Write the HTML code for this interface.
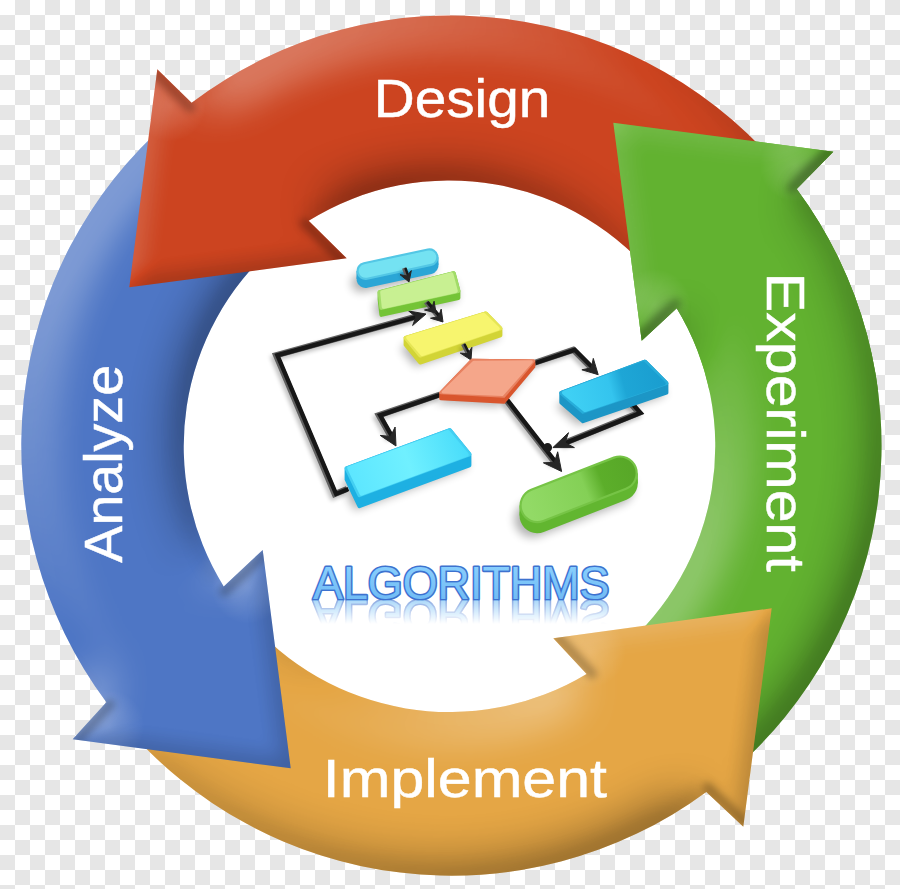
<!DOCTYPE html>
<html><head><meta charset="utf-8"><title>Algorithms</title>
<style>
html,body{margin:0;padding:0;}
body{width:900px;height:889px;overflow:hidden;background:#fff;font-family:"Liberation Sans",sans-serif;}
svg{display:block;}
text{font-family:"Liberation Sans",sans-serif;}
</style></head><body>
<svg width="900" height="889" viewBox="0 0 900 889">
<defs>
<pattern id="chk" width="30" height="30" patternUnits="userSpaceOnUse">
<rect width="30" height="30" fill="#ffffff"/>
<rect x="15" y="0" width="15" height="15" fill="#e6e6e6"/>
<rect x="0" y="15" width="15" height="15" fill="#e6e6e6"/>
</pattern>
<filter id="bevel" x="-10%" y="-10%" width="120%" height="120%" color-interpolation-filters="sRGB">
<feGaussianBlur in="SourceAlpha" stdDeviation="24" result="b"/>
<feDiffuseLighting in="b" surfaceScale="22" diffuseConstant="1" lighting-color="#ffffff" result="l0">
<feDistantLight azimuth="225" elevation="45"/>
</feDiffuseLighting>
<feGaussianBlur in="l0" stdDeviation="3" result="l"/>
<feColorMatrix in="l" type="matrix" values="0 0 0 0 1  0 0 0 0 1  0 0 0 0 1  1.0 0 0 0 -0.7071" result="hi"/>
<feColorMatrix in="l" type="matrix" values="0 0 0 0 0  0 0 0 0 0  0 0 0 0 0  -0.5 0 0 0 0.3535" result="sh"/>
<feComponentTransfer in="hi" result="hi2"><feFuncA type="table" tableValues="0 0.25 0.25 0.25 0.25"/></feComponentTransfer>
<feComponentTransfer in="sh" result="sh2"><feFuncA type="table" tableValues="0 0.21 0.21 0.21 0.21"/></feComponentTransfer>
<feMerge><feMergeNode in="hi2"/><feMergeNode in="sh2"/></feMerge>
</filter>
<path id="p_red" d="M191.6 102.8 L157.3 69.3 L129.3 287.3 L346.7 258.3 L308.7 220.8 A265.8 265.8 0 0 1 659.0 282.6 L790.3 180.7 A430.1 430.1 0 0 0 191.6 102.8 Z"/>
<clipPath id="c_red"><use href="#p_red"/></clipPath>
<path id="p_green" d="M796.7 189.0 L833.3 151.7 L613.3 122.7 L641.7 340.7 L676.7 308.3 A265.8 265.8 0 0 1 620.4 649.8 L727.9 775.0 A430.1 430.1 0 0 0 796.7 189.0 Z"/>
<clipPath id="c_green"><use href="#p_green"/></clipPath>
<path id="p_orange" d="M706.3 792.0 L743.3 826.7 L771.7 608.3 L553.3 638.3 L586.6 673.9 A265.8 265.8 0 0 1 245.9 617.1 L121.9 722.0 A430.1 430.1 0 0 0 706.3 792.0 Z"/>
<clipPath id="c_orange"><use href="#p_orange"/></clipPath>
<path id="p_blue" d="M106.4 702.3 L72.7 739.3 L290.7 768.3 L262.7 550.0 L223.7 586.4 A265.8 265.8 0 0 1 275.1 245.6 L169.2 120.9 A430.1 430.1 0 0 0 106.4 702.3 Z"/>
<clipPath id="c_blue"><use href="#p_blue"/></clipPath>
<filter id="sblur" filterUnits="userSpaceOnUse" x="200" y="200" width="520" height="420"><feGaussianBlur stdDeviation="5"/></filter>
<filter id="sblur2" filterUnits="userSpaceOnUse" x="200" y="200" width="520" height="420"><feGaussianBlur stdDeviation="2"/></filter>
<linearGradient id="gblue" gradientUnits="userSpaceOnUse" x1="570" y1="400" x2="660" y2="375"><stop offset="0" stop-color="#3fd0f4"/><stop offset="0.45" stop-color="#34c4ee"/><stop offset="0.6" stop-color="#1ea6d6"/><stop offset="1" stop-color="#1a9ed0"/></linearGradient>
<linearGradient id="gcyan" gradientUnits="userSpaceOnUse" x1="350" y1="480" x2="465" y2="440"><stop offset="0" stop-color="#5ce6ff"/><stop offset="0.5" stop-color="#70f0ff"/><stop offset="1" stop-color="#48dcfa"/></linearGradient>
<linearGradient id="ggreen" gradientUnits="userSpaceOnUse" x1="530" y1="510" x2="630" y2="470"><stop offset="0" stop-color="#92da66"/><stop offset="0.55" stop-color="#84d056"/><stop offset="0.72" stop-color="#5cae2a"/><stop offset="1" stop-color="#58a828"/></linearGradient>
<linearGradient id="algfill" x1="0" y1="0" x2="0" y2="1"><stop offset="0" stop-color="#8fd4ff"/><stop offset="1" stop-color="#6ab6f2"/></linearGradient>
<linearGradient id="rgrad" gradientUnits="userSpaceOnUse" x1="0" y1="599" x2="0" y2="624"><stop offset="0" stop-color="#fff" stop-opacity="0.62"/><stop offset="1" stop-color="#fff" stop-opacity="0"/></linearGradient>
<mask id="rmask" maskUnits="userSpaceOnUse" x="300" y="595" width="330" height="40"><rect x="300" y="599" width="330" height="30" fill="url(#rgrad)"/></mask>
<filter id="bevel2" x="-10%" y="-10%" width="120%" height="120%" color-interpolation-filters="sRGB">
<feGaussianBlur in="SourceAlpha" stdDeviation="10" result="b"/>
<feDiffuseLighting in="b" surfaceScale="10" diffuseConstant="1" lighting-color="#ffffff" result="l0">
<feDistantLight azimuth="225" elevation="45"/>
</feDiffuseLighting>
<feGaussianBlur in="l0" stdDeviation="1.5" result="l"/>
<feColorMatrix in="l" type="matrix" values="0 0 0 0 1  0 0 0 0 1  0 0 0 0 1  0.4 0 0 0 -0.2828" result="hi"/>
<feColorMatrix in="l" type="matrix" values="0 0 0 0 0  0 0 0 0 0  0 0 0 0 0  -0.4 0 0 0 0.2828" result="sh"/>
<feComponentTransfer in="hi" result="hi2"><feFuncA type="table" tableValues="0 0.08 0.08 0.08 0.08"/></feComponentTransfer>
<feComponentTransfer in="sh" result="sh2"><feFuncA type="table" tableValues="0 0.12 0.12 0.12 0.12"/></feComponentTransfer>
<feMerge><feMergeNode in="hi2"/><feMergeNode in="sh2"/></feMerge>
</filter>
<radialGradient id="blob"><stop offset="0" stop-color="#fff" stop-opacity="0.17"/><stop offset="0.5" stop-color="#fff" stop-opacity="0.1"/><stop offset="1" stop-color="#fff" stop-opacity="0"/></radialGradient>
<filter id="crease" filterUnits="userSpaceOnUse" x="0" y="0" width="900" height="889"><feGaussianBlur stdDeviation="3.5"/></filter>
<clipPath id="ghead"><rect x="560" y="60" width="340" height="330"/></clipPath>
</defs>
<rect width="900" height="889" fill="url(#chk)"/>
<circle cx="449.5" cy="446.2" r="267.3" fill="#ffffff"/>
<use href="#p_green" fill="#62b230"/>
<g clip-path="url(#c_green)"><path d="M809.5 207.3 L891.3 124.0 L572.7 82.0 L613.7 396.6 L687.6 328.1 A265.8 265.8 0 0 1 620.4 649.8 L727.9 775.0 A430.1 430.1 0 0 0 809.5 207.3 Z" filter="url(#bevel)"/><use href="#p_green" filter="url(#bevel2)"/><circle cx="795.5" cy="165.8" r="36" fill="url(#blob)"/><line x1="828.4" y1="150.6" x2="791.8" y2="187.9" stroke="#000" stroke-opacity="0.24" stroke-width="10" stroke-linecap="round" filter="url(#crease)"/><circle cx="654.8" cy="305.0" r="36" fill="url(#blob)"/><line x1="640.6" y1="335.8" x2="675.6" y2="303.4" stroke="#000" stroke-opacity="0.24" stroke-width="10" stroke-linecap="round" filter="url(#crease)"/></g>
<use href="#p_orange" fill="#e5a645"/>
<g clip-path="url(#c_orange)"><path d="M687.7 804.9 L771.3 883.0 L812.3 567.4 L497.7 610.6 L566.5 684.9 A265.8 265.8 0 0 1 245.9 617.1 L121.9 722.0 A430.1 430.1 0 0 0 687.7 804.9 Z" filter="url(#bevel)"/><use href="#p_orange" filter="url(#bevel2)"/><line x1="744.4" y1="821.8" x2="707.6" y2="787.4" stroke="#000" stroke-opacity="0.24" stroke-width="10" stroke-linecap="round" filter="url(#crease)"/><circle cx="589.7" cy="652.0" r="36" fill="url(#blob)"/><line x1="558.2" y1="637.1" x2="592.2" y2="673.8" stroke="#000" stroke-opacity="0.24" stroke-width="10" stroke-linecap="round" filter="url(#crease)"/></g>
<use href="#p_blue" fill="#4e76c5"/>
<g clip-path="url(#c_blue)"><path d="M93.2 683.5 L18.0 767.3 L331.2 809.0 L290.8 493.8 L212.6 566.6 A265.8 265.8 0 0 1 275.1 245.6 L169.2 120.9 A430.1 430.1 0 0 0 93.2 683.5 Z" filter="url(#bevel)"/><use href="#p_blue" filter="url(#bevel2)"/><circle cx="108.3" cy="725.8" r="36" fill="url(#blob)"/><line x1="77.6" y1="740.4" x2="109.9" y2="704.4" stroke="#000" stroke-opacity="0.24" stroke-width="10" stroke-linecap="round" filter="url(#crease)"/><circle cx="247.6" cy="587.8" r="36" fill="url(#blob)"/><line x1="263.9" y1="554.9" x2="224.5" y2="591.6" stroke="#000" stroke-opacity="0.24" stroke-width="10" stroke-linecap="round" filter="url(#crease)"/></g>
<use href="#p_red" fill="#cc4420"/>
<g clip-path="url(#c_red)"><path d="M209.7 89.7 L129.5 11.4 L88.8 328.0 L406.1 285.7 L328.4 209.6 A265.8 265.8 0 0 1 659.0 282.6 L790.3 180.7 A430.1 430.1 0 0 0 209.7 89.7 Z" filter="url(#bevel)"/><use href="#p_red" filter="url(#bevel2)"/><circle cx="170.0" cy="105.5" r="36" fill="url(#blob)"/><line x1="156.2" y1="74.2" x2="190.4" y2="107.6" stroke="#000" stroke-opacity="0.24" stroke-width="10" stroke-linecap="round" filter="url(#crease)"/><line x1="341.8" y1="259.5" x2="304.4" y2="222.9" stroke="#000" stroke-opacity="0.24" stroke-width="10" stroke-linecap="round" filter="url(#crease)"/></g>
<g clip-path="url(#ghead)"><use href="#p_green" fill="#62b230"/>
<g clip-path="url(#c_green)"><path d="M809.5 207.3 L891.3 124.0 L572.7 82.0 L613.7 396.6 L687.6 328.1 A265.8 265.8 0 0 1 620.4 649.8 L727.9 775.0 A430.1 430.1 0 0 0 809.5 207.3 Z" filter="url(#bevel)"/><use href="#p_green" filter="url(#bevel2)"/><circle cx="795.5" cy="165.8" r="36" fill="url(#blob)"/><line x1="828.4" y1="150.6" x2="791.8" y2="187.9" stroke="#000" stroke-opacity="0.24" stroke-width="10" stroke-linecap="round" filter="url(#crease)"/><circle cx="654.8" cy="305.0" r="36" fill="url(#blob)"/><line x1="640.6" y1="335.8" x2="675.6" y2="303.4" stroke="#000" stroke-opacity="0.24" stroke-width="10" stroke-linecap="round" filter="url(#crease)"/></g>
</g>
<g fill="#ffffff" font-size="54" stroke="#ffffff" stroke-width="0.5">
<text x="373.7" y="117" textLength="176.6" lengthAdjust="spacingAndGlyphs">Design</text>
<text x="322.8" y="796.5" textLength="284.2" lengthAdjust="spacingAndGlyphs">Implement</text>
<text transform="translate(767 272.7) rotate(90)" textLength="299.2" lengthAdjust="spacingAndGlyphs">Experiment</text>
<text transform="translate(121.5 562.7) rotate(-90)" textLength="197.8" lengthAdjust="spacingAndGlyphs">Analyze</text>
</g>
<g id="flow">
<path d="M347.0 489.0 L334.7 494.0 L276.0 355.3 L416.7 316.5" transform="translate(-2 3)" fill="none" stroke="#000" stroke-width="6" opacity="0.25" filter="url(#sblur2)"/>
<path d="M347.0 489.0 L334.7 494.0 L276.0 355.3 L416.7 316.5" fill="none" stroke="#606060" stroke-width="6" stroke-linejoin="miter"/>
<path d="M347.0 489.0 L334.7 494.0 L276.0 355.3 L416.7 316.5" transform="translate(1.4 0)" fill="none" stroke="#171717" stroke-width="4.4" stroke-linejoin="miter"/>
<polygon points="426.0,314.0 412.6,325.5 416.0,316.8 408.6,311.0" fill="#262626" stroke="#262626" stroke-width="1" stroke-linejoin="round"/>
<path d="M440.0 394.5 L378.7 415.3 L391.0 437.1" transform="translate(-2 3)" fill="none" stroke="#000" stroke-width="6" opacity="0.25" filter="url(#sblur2)"/>
<path d="M440.0 394.5 L378.7 415.3 L391.0 437.1" fill="none" stroke="#606060" stroke-width="6" stroke-linejoin="miter"/>
<path d="M440.0 394.5 L378.7 415.3 L391.0 437.1" transform="translate(1.4 0)" fill="none" stroke="#171717" stroke-width="4.4" stroke-linejoin="miter"/>
<polygon points="396.0,446.0 380.2,435.4 390.6,436.4 395.1,427.0" fill="#262626" stroke="#262626" stroke-width="1" stroke-linejoin="round"/>
<path d="M534.0 363.0 L573.3 349.8 L591.8 368.3" transform="translate(-2 3)" fill="none" stroke="#000" stroke-width="6" opacity="0.25" filter="url(#sblur2)"/>
<path d="M534.0 363.0 L573.3 349.8 L591.8 368.3" fill="none" stroke="#606060" stroke-width="6" stroke-linejoin="miter"/>
<path d="M534.0 363.0 L573.3 349.8 L591.8 368.3" transform="translate(1.4 0)" fill="none" stroke="#171717" stroke-width="4.4" stroke-linejoin="miter"/>
<polygon points="598.2,374.7 581.9,369.8 591.3,367.8 593.3,358.4" fill="#262626" stroke="#262626" stroke-width="1" stroke-linejoin="round"/>
<path d="M628.4 401.0 L639.1 412.9 L564.0 443.1" transform="translate(-2 3)" fill="none" stroke="#000" stroke-width="6" opacity="0.25" filter="url(#sblur2)"/>
<path d="M628.4 401.0 L639.1 412.9 L564.0 443.1" fill="none" stroke="#606060" stroke-width="6" stroke-linejoin="miter"/>
<path d="M628.4 401.0 L639.1 412.9 L564.0 443.1" transform="translate(1.4 0)" fill="none" stroke="#171717" stroke-width="4.4" stroke-linejoin="miter"/>
<polygon points="552.9,447.6 568.5,432.7 565.0,442.7 574.4,447.6" fill="#262626" stroke="#262626" stroke-width="1" stroke-linejoin="round"/>
<path d="M505.2 399.0 L555.0 463.0" transform="translate(-2 3)" fill="none" stroke="#000" stroke-width="6" opacity="0.25" filter="url(#sblur2)"/>
<path d="M505.2 399.0 L555.0 463.0" fill="none" stroke="#606060" stroke-width="6" stroke-linejoin="miter"/>
<path d="M505.2 399.0 L555.0 463.0" transform="translate(1.4 0)" fill="none" stroke="#171717" stroke-width="4.4" stroke-linejoin="miter"/>
<polygon points="561.6,471.5 543.4,462.8 554.4,462.3 557.7,451.8" fill="#262626" stroke="#262626" stroke-width="1" stroke-linejoin="round"/>
<circle cx="547.6" cy="447.6" r="4.5" fill="#1c1c1c"/>
<line x1="360.5" y1="283.0" x2="425.5" y2="269.2" stroke="#000" stroke-width="18" stroke-linecap="round" opacity="0.3" filter="url(#sblur)"/>
<line x1="365.5" y1="279.0" x2="429.5" y2="265.2" stroke="#2ba6d6" stroke-width="18" stroke-linecap="round"/>
<polygon points="356.5,271.0 438.5,257.2 438.5,265.2 356.5,279.0" fill="#2ba6d6"/>
<line x1="365.5" y1="271.0" x2="429.5" y2="257.2" stroke="#53c7e5" stroke-width="18" stroke-linecap="round"/>
<line x1="365.5" y1="271.0" x2="429.5" y2="257.2" stroke="#74e2f2" stroke-width="13.6" stroke-linecap="round"/>
<path d="M404.0 268.0 L407.0 276.3" transform="translate(-2 3)" fill="none" stroke="#000" stroke-width="4" opacity="0.25" filter="url(#sblur2)"/>
<path d="M404.0 268.0 L407.0 276.3" fill="none" stroke="#606060" stroke-width="4" stroke-linejoin="miter"/>
<path d="M404.0 268.0 L407.0 276.3" transform="translate(1.4 0)" fill="none" stroke="#171717" stroke-width="2.4" stroke-linejoin="miter"/>
<polygon points="409.0,282.0 400.0,274.6 406.8,275.9 411.3,270.6" fill="#262626" stroke="#262626" stroke-width="1" stroke-linejoin="round"/>
<polygon points="374.6,303.3 379.6,299.3 453.7,280.2 458.4,298.0 453.4,302.0 376.4,318.9" fill="#000" opacity="0.3" filter="url(#sblur)"/>
<polygon points="379.6,292.3 453.7,273.2 458.4,291.0 458.4,298.0 381.4,314.9 379.6,299.3" fill="#74c436" stroke="#74c436" stroke-width="4.0" stroke-linejoin="round"/>
<polygon points="379.6,292.3 453.7,273.2 458.4,291.0 381.4,307.9" fill="#a2dc69" stroke="#a2dc69" stroke-width="4.0" stroke-linejoin="round"/>
<polygon points="382.2,292.2 451.4,274.3 455.8,291.0 383.7,306.8" fill="#c8f092" stroke="#c8f092" stroke-width="4.0" stroke-linejoin="round"/>
<path d="M426.0 302.0 L438.7 317.0" transform="translate(-2 3)" fill="none" stroke="#000" stroke-width="5" opacity="0.25" filter="url(#sblur2)"/>
<path d="M426.0 302.0 L438.7 317.0" fill="none" stroke="#606060" stroke-width="5" stroke-linejoin="miter"/>
<path d="M426.0 302.0 L438.7 317.0" transform="translate(1.4 0)" fill="none" stroke="#171717" stroke-width="3.4" stroke-linejoin="miter"/>
<polygon points="443.0,322.0 430.5,318.2 438.4,316.6 441.2,309.1" fill="#262626" stroke="#262626" stroke-width="1" stroke-linejoin="round"/>
<polygon points="436.0,313.0 424.5,310.0 431.6,308.2 434.1,301.2" fill="#262626" stroke="#262626" stroke-width="1" stroke-linejoin="round"/>
<polygon points="400.6,348.8 405.6,344.8 485.8,320.4 500.4,335.3 495.4,339.3 415.2,366.6" fill="#000" opacity="0.3" filter="url(#sblur)"/>
<polygon points="405.6,337.8 485.8,313.4 500.4,328.3 500.4,335.3 420.2,362.6 405.6,344.8" fill="#d2d436" stroke="#d2d436" stroke-width="4.0" stroke-linejoin="round"/>
<polygon points="405.6,337.8 485.8,313.4 500.4,328.3 420.2,355.6" fill="#e6e655" stroke="#e6e655" stroke-width="4.0" stroke-linejoin="round"/>
<polygon points="408.2,337.6 483.6,314.7 497.8,328.6 422.3,354.1" fill="#f7f56e" stroke="#f7f56e" stroke-width="4.0" stroke-linejoin="round"/>
<path d="M463.0 344.0 L468.0 354.1" transform="translate(-2 3)" fill="none" stroke="#000" stroke-width="4" opacity="0.25" filter="url(#sblur2)"/>
<path d="M463.0 344.0 L468.0 354.1" fill="none" stroke="#606060" stroke-width="4" stroke-linejoin="miter"/>
<path d="M463.0 344.0 L468.0 354.1" transform="translate(1.4 0)" fill="none" stroke="#171717" stroke-width="2.4" stroke-linejoin="miter"/>
<polygon points="471.0,360.0 460.3,353.1 467.8,353.6 471.9,347.3" fill="#262626" stroke="#262626" stroke-width="1" stroke-linejoin="round"/>
<polygon points="435.7,402.8 466.9,370.2 471.9,366.2 533.8,366.9 503.9,402.3 498.9,406.3" fill="#000" opacity="0.3" filter="url(#sblur)"/>
<polygon points="440.7,392.8 471.9,360.2 533.8,360.9 533.8,366.9 503.9,402.3 440.7,398.8" fill="#d9562e" stroke="#d9562e" stroke-width="3.0" stroke-linejoin="round"/>
<polygon points="471.9,360.2 533.8,360.9 503.9,396.3 440.7,392.8" fill="#e88261" stroke="#e88261" stroke-width="3.0" stroke-linejoin="round"/>
<polygon points="473.7,362.2 531.3,361.7 502.2,394.4 443.1,392.0" fill="#f5a68a" stroke="#f5a68a" stroke-width="3.0" stroke-linejoin="round"/>
<polygon points="556.3,406.4 561.3,402.4 645.0,371.2 666.4,392.7 661.4,396.7 578.0,425.2" fill="#000" opacity="0.3" filter="url(#sblur)"/>
<polygon points="561.3,392.9 645.0,361.7 666.4,383.2 666.4,392.7 583.0,421.2 561.3,402.4" fill="#1c96c6" stroke="#1c96c6" stroke-width="4.0" stroke-linejoin="round"/>
<polygon points="561.3,392.9 645.0,361.7 666.4,383.2 583.0,411.7" fill="#27adda" stroke="#27adda" stroke-width="4.0" stroke-linejoin="round"/>
<polygon points="563.9,392.7 643.0,363.3 663.8,383.4 585.1,410.1" fill="url(#gblue)" stroke="url(#gblue)" stroke-width="4.0" stroke-linejoin="round"/>
<polygon points="341.6,483.4 346.6,479.4 449.9,441.2 469.4,465.3 464.4,469.3 354.4,510.2" fill="#000" opacity="0.3" filter="url(#sblur)"/>
<polygon points="346.6,468.4 449.9,430.2 469.4,454.3 469.4,465.3 359.4,506.2 346.6,479.4" fill="#1eb0e2" stroke="#1eb0e2" stroke-width="4.0" stroke-linejoin="round"/>
<polygon points="346.6,468.4 449.9,430.2 469.4,454.3 359.4,495.2" fill="#43cff2" stroke="#43cff2" stroke-width="4.0" stroke-linejoin="round"/>
<polygon points="349.2,468.1 447.8,431.8 466.8,454.6 361.5,493.7" fill="url(#gcyan)" stroke="url(#gcyan)" stroke-width="4.0" stroke-linejoin="round"/>
<line x1="532.3" y1="519.4" x2="616.0" y2="487.2" stroke="#000" stroke-width="35.6" stroke-linecap="round" opacity="0.3" filter="url(#sblur)"/>
<line x1="537.3" y1="515.4" x2="620.0" y2="483.2" stroke="#62b630" stroke-width="35.6" stroke-linecap="round"/>
<polygon points="519.5,505.4 637.8,473.2 637.8,483.2 519.5,515.4" fill="#62b630"/>
<line x1="537.3" y1="505.4" x2="620.0" y2="473.2" stroke="#76c446" stroke-width="35.6" stroke-linecap="round"/>
<line x1="537.3" y1="505.4" x2="620.0" y2="473.2" stroke="url(#ggreen)" stroke-width="31.200000000000003" stroke-linecap="round"/>
</g>

<g font-size="46" stroke-linejoin="round">
<text id="algt" x="313" y="598.7" textLength="296.5" lengthAdjust="spacingAndGlyphs" fill="url(#algfill)" stroke="#3d72cf" stroke-width="3.2" paint-order="stroke">ALGORITHMS</text>
<g mask="url(#rmask)"><use href="#algt" transform="translate(0 1199) scale(1 -1)"/></g>
</g>

</svg>
</body></html>
